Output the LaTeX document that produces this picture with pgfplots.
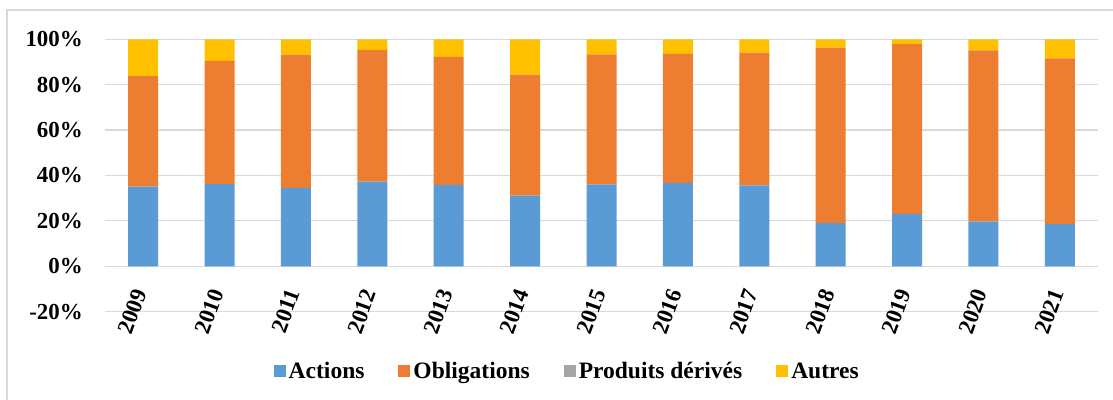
\documentclass[border=0pt]{standalone}
\usepackage{fontspec}
\setmainfont{Liberation Serif}
\usepackage{pgfplots}
\pgfplotsset{compat=1.18}

\definecolor{cact}{RGB}{91,155,213}
\definecolor{cobl}{RGB}{237,125,49}
\definecolor{cder}{RGB}{165,165,165}
\definecolor{caut}{RGB}{255,192,0}
\definecolor{cgrid}{RGB}{217,217,217}

\newcommand{\lab}{\bfseries\fontsize{23}{27}\selectfont}
\newcommand{\leg}{\bfseries\fontsize{23.6}{28}\selectfont}

\begin{document}
\begin{tikzpicture}
	\useasboundingbox (0,0) rectangle (1113bp,400bp);
	\draw[cgrid, line width=1.5bp] (7bp,0) -- (7bp,390bp) -- (1113bp,390bp);
	\begin{axis} [
		at={(105bp,88.3bp)},
		anchor=south west,
		scale only axis,
		width=993bp,
		height=272.4bp,
		ybar stacked,
		bar width=30bp,
		xmin=-0.5,
		xmax=12.5,
		ymin=-20,
		ymax=100,
		xtick=data,
		xticklabels={2009,2010,2011,2012,2013,2014,2015,2016,2017,2018,2019,2020,2021},
		ytick={-20,0,20,40,60,80,100},
		yticklabels={-20\%,0\%,20\%,40\%,60\%,80\%,100\%},
		major tick length=0pt,
		axis line style={draw=none},
		ymajorgrids,
		grid style={cgrid, line width=1.2bp},
		yticklabel style={font=\lab, anchor=east, inner sep=0pt, xshift=-22bp},
		xticklabel style={font=\lab, xshift=-10bp, yshift=24.7bp, rotate=70, anchor=north east, inner sep=0pt},
		legend columns=4,
		legend style={draw=none, fill=none, font=\leg, at={(0.466,-0.2195)}, anchor=center,
			nodes={inner sep=3bp},
			/tikz/every even column/.append style={column sep=31bp}},
		legend image code/.code={\fill[#1] (0bp,-6bp) rectangle (12bp,6bp);},
	]
		\addplot[fill=cact, draw=none] coordinates {
			(0,35.1) (1,36.2) (2,34.5) (3,37.3) (4,35.9) (5,31.1) (6,36.1)
			(7,36.7) (8,35.6) (9,19.0) (10,23.1) (11,19.7) (12,18.7)
		};
		\addlegendentry{Actions}
		\addplot[fill=cobl, draw=none] coordinates {
			(0,48.7) (1,54.3) (2,58.7) (3,58.0) (4,56.4) (5,53.3) (6,57.3)
			(7,56.9) (8,58.5) (9,77.3) (10,74.8) (11,75.4) (12,72.9)
		};
		\addlegendentry{Obligations}
		\addplot[fill=cder, draw=none] coordinates {
			(0,0) (1,0) (2,0) (3,0) (4,0) (5,0) (6,0)
			(7,0) (8,0) (9,0) (10,0) (11,0) (12,0)
		};
		\addlegendentry{Produits dérivés}
		\addplot[fill=caut, draw=none] coordinates {
			(0,16.2) (1,9.5) (2,6.8) (3,4.7) (4,7.7) (5,15.6) (6,6.6)
			(7,6.4) (8,5.9) (9,3.7) (10,2.1) (11,4.9) (12,8.4)
		};
		\addlegendentry{Autres}
	\end{axis}
\end{tikzpicture}
\end{document}
